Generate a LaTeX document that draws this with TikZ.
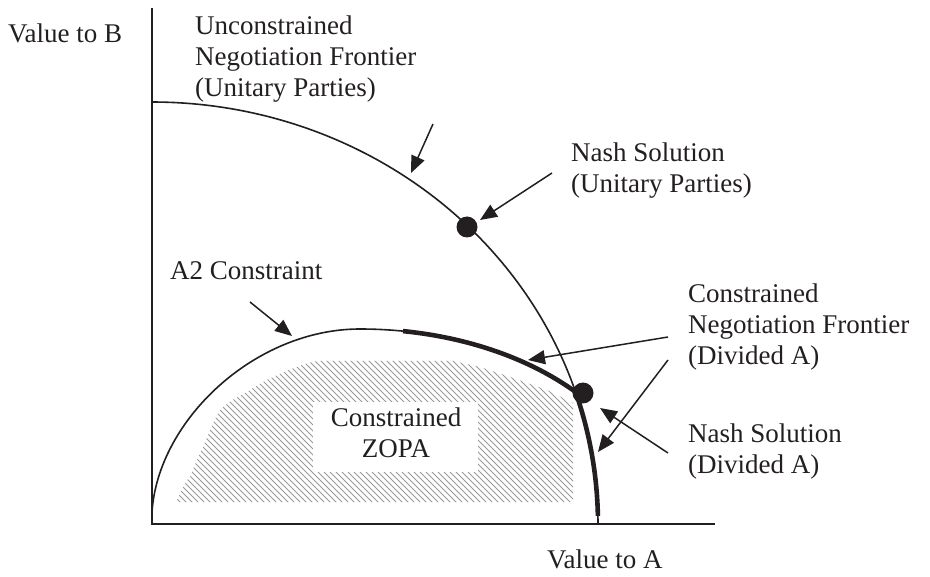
\documentclass[tikz,border=0pt]{standalone}
\usepackage{fontspec}
\setmainfont{Liberation Serif}
\usetikzlibrary{arrows.meta}
\definecolor{ink}{HTML}{231F20}
\newcommand{\lblL}[1]{\begin{tabular}[t]{@{}l@{}}#1\end{tabular}}
\newcommand{\lblC}[1]{\begin{tabular}[t]{@{}c@{}}#1\end{tabular}}
\begin{document}
\begin{tikzpicture}[x=1pt,y=-1pt,
  curveline/.style={line width=1.6pt,draw=ink},
  axisline/.style={line width=1.8pt,draw=ink},
  frontier/.style={line width=4.6pt,draw=ink,line join=round},
  pointer/.style={line width=1.5pt,draw=ink,-{Triangle[length=17pt,width=14pt]}},
  hatchline/.style={line width=0.8pt,draw=black!40},
  lbltext/.style={anchor=base west,inner sep=0pt,text=ink,font=\fontsize{27}{31}\selectfont},
  solution/.style={circle,fill=ink,inner sep=0pt,minimum size=21pt}]
\useasboundingbox (0,0) rectangle (930,577);
% hatched ZOPA region
\begin{scope}
  \clip (176,502) .. controls (182,490) and (186,480) .. (190,477)
        .. controls (196,462) and (199,455) .. (203,447)
        .. controls (209,433) and (214,420) .. (220,410)
        .. controls (230,400) and (240,396) .. (247,392)
        .. controls (256,386) and (264,381) .. (273,377)
        .. controls (282,373) and (290,369) .. (297,367)
        .. controls (304,364) and (311,362) .. (317,361)
        -- (453,361) -- (480,367) -- (513,378) -- (547,390) -- (573,403)
        -- (573,502) -- cycle;
  \foreach \i in {0,6,...,570} \draw[hatchline] (\i,340) -- ++(190,190);
\end{scope}
\fill[white] (313,402) rectangle (478,472);
% axes
\coordinate (ytop) at (152,8);
\coordinate (orig) at (152,524);
\coordinate (xend) at (715,524);
\draw[axisline] (ytop) -- (orig) -- (xend);
% unconstrained frontier
\draw[curveline] plot[domain=90:0,samples=90] ({152+446*cos(\x)},{524-422*sin(\x)});
% A2 constraint
\draw[curveline] (152,512) .. controls (158,420) and (255,329) .. (360,329)
  -- plot[domain=90:42.62,samples=50] ({360+293*cos(\x)},{524-195*sin(\x)});
% constrained negotiation frontier
\draw[frontier] plot[domain=81.56:42.62,samples=50] ({360+293*cos(\x)},{524-195*sin(\x)})
  -- plot[domain=18.24:1.1,samples=30] ({152+446*cos(\x)},{524-422*sin(\x)});
% solutions
\node[solution] (nashU) at (467,227) {};
\node[solution] (nashD) at (583,393) {};
% labels
\node[lbltext] (vb) at (8,43) {Value to B};
\node[lbltext] (unc) at (195,35) {\lblL{Unconstrained\\Negotiation Frontier\\(Unitary Parties)}};
\node[lbltext] (nu) at (571,162) {\lblL{Nash Solution\\(Unitary Parties)}};
\node[lbltext] (a2) at (170,280) {A2 Constraint};
\node[lbltext] (cnf) at (688,303) {\lblL{Constrained\\Negotiation Frontier\\(Divided A)}};
\node[lbltext] (nd) at (688,443) {\lblL{Nash Solution\\(Divided A)}};
\node[lbltext] (va) at (547,568) {Value to A};
\node[lbltext,anchor=base] (zopa) at (396,427) {\lblC{Constrained\\ZOPA}};
% pointer coordinates
\coordinate (p1s) at (433,124); \coordinate (p1e) at (411,173);
\coordinate (p2s) at (552,173); \coordinate (p2e) at (480,220);
\coordinate (p3s) at (250,302); \coordinate (p3e) at (292,336);
\coordinate (p4s) at (668,337); \coordinate (p4e) at (528,360);
\coordinate (p5s) at (668,360); \coordinate (p5e) at (598,452);
\coordinate (p6s) at (668,453); \coordinate (p6e) at (600,408);
\draw[pointer] (p1s) -- (p1e);
\draw[pointer] (p2s) -- (p2e);
\draw[pointer] (p3s) -- (p3e);
\draw[pointer] (p4s) -- (p4e);
\draw[pointer] (p5s) -- (p5e);
\draw[pointer] (p6s) -- (p6e);
\end{tikzpicture}
\end{document}
